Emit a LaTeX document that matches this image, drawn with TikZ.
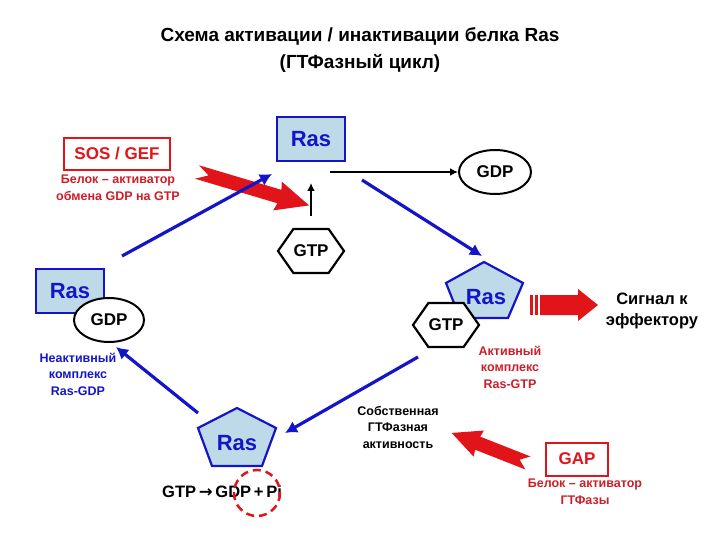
\documentclass[tikz,border=0pt]{standalone}
\usepackage{fontspec}
\setmainfont{Liberation Sans}
\newfontfamily\djv{DejaVu Sans}
\usetikzlibrary{shapes.symbols,shapes.geometric,arrows.meta}
\definecolor{rasblue}{RGB}{20,20,200}
\definecolor{rasfill}{RGB}{190,218,232}
\definecolor{myred}{RGB}{225,20,25}
\definecolor{txtred}{RGB}{205,30,40}
\tikzset{
  lbl/.style={font=\bfseries\fontsize{12.5}{16.5}\selectfont, align=center, inner sep=0},
  rasbox/.style={draw=rasblue, line width=2.2pt, fill=rasfill, text=rasblue, font=\bfseries\fontsize{22}{24}\selectfont, minimum width=68, minimum height=44, inner sep=0},
  rastxt/.style={text=rasblue, font=\bfseries\fontsize{22}{24}\selectfont, inner sep=0},
  hexa/.style={draw, line width=2.2pt, fill=white, shape=signal, signal to=west and east, signal pointer angle=110, minimum width=66, minimum height=44, inner sep=0, font=\bfseries\fontsize{17}{19}\selectfont},
  gdpell/.style={draw, ellipse, line width=2pt, fill=white, minimum width=72, minimum height=44, inner sep=0, font=\bfseries\fontsize{17}{19}\selectfont},
  redbox/.style={draw=myred, line width=2pt, text=myred, font=\bfseries\fontsize{17}{19}\selectfont, inner sep=0},
  blue arrow/.style={draw=rasblue, line width=3.2pt, -{Latex[length=12pt,width=13pt]}},
  blk arrow/.style={draw=black, line width=1.6pt, -{Latex[length=8pt,width=8pt]}},
  pent/.style={draw=rasblue, line width=2.2pt, fill=rasfill, line join=miter}
}
\begin{document}
\begin{tikzpicture}[x=1pt,y=-1pt]
\useasboundingbox (0,0) rectangle (720,540);
% title
\node[font=\bfseries\fontsize{19}{27}\selectfont, align=center] (title) at (360,50) {Схема активации / инактивации белка Ras\\(ГТФазный цикл)};
% top
\node[rasbox] (rastop) at (311,139) {Ras};
\node[hexa] (gtptop) at (311,251) {GTP};
\node[gdpell] (gdptop) at (495,172) {GDP};
\coordinate (exitA) at (330,172);
\draw[blk arrow] (exitA) -- (gdptop.west);
\coordinate (upA) at (311,216);
\coordinate (upB) at (311,183);
\draw[blk arrow] (upA) -- (upB);
% SOS
\node[redbox, minimum width=106, minimum height=32] (sos) at (117,154) {SOS / GEF};
\node[lbl, text=txtred] (soslbl) at (118,188) {Белок – активатор\\обмена GDP на GTP};
\begin{scope}[shift={(197,172)}, rotate=-16.6]
\fill[myred] (0,-7) -- (86,-7) -- (84,-15) -- (117,0) -- (84,15) -- (86,7) -- (0,7) -- (12,0) -- cycle;
\end{scope}
% right Ras-GTP
\draw[pent] (484,262) -- (523,283) -- (508,318) -- (460,318) -- (446,283) -- cycle;
\node[rastxt] (rasright) at (486,297) {Ras};
\node[hexa] (gtpright) at (446,325) {GTP};
\node[lbl, text=txtred] (actlbl) at (510,367) {Активный\\комплекс\\Ras-GTP};
% signal arrow
\fill[myred] (530,295) rectangle (533,315);
\fill[myred] (535,295) rectangle (538,315);
\fill[myred] (540,295) -- (578,295) -- (578,289) -- (598,305) -- (578,321) -- (578,315) -- (540,315) -- cycle;
\node[font=\bfseries\fontsize{16.5}{21}\selectfont, align=center] (signal) at (652,311) {Сигнал к\\эффектору};
% bottom Ras
\draw[pent] (237,408) -- (276,428) -- (262,466) -- (212,466) -- (198,428) -- cycle;
\node[rastxt] (rasbot) at (237,443) {Ras};
\node[font=\bfseries\fontsize{16.5}{18}\selectfont, inner sep=0, anchor=west] (react) at (162,492) {GTP\,{\djv\bfseries →}\,GDP\,+\,Pi};
\draw[myred, line width=2.5pt, dash pattern=on 8pt off 5pt] (257,493) circle (23);
% left Ras-GDP
\node[rasbox] (rasleft) at (70,291) {Ras};
\node[gdpell, minimum width=70] (gdpleft) at (109,320) {GDP};
\node[lbl, text=rasblue] (inactlbl) at (78,374) {Неактивный\\комплекс\\Ras-GDP};
% intrinsic
\node[lbl, text=black] (intr) at (398,427) {Собственная\\ГТФазная\\активность};
% GAP
\node[redbox, minimum width=62, minimum height=33] (gap) at (577,459) {GAP};
\node[lbl, text=txtred] (gaplbl) at (585,492) {Белок – активатор\\ГТФазы};
\begin{scope}[shift={(528,463)}, rotate=158.5]
\fill[myred] (0,-7) -- (54,-7) -- (53,-14) -- (82,0) -- (53,14) -- (54,7) -- (0,7) -- (9,0) -- cycle;
\end{scope}
% blue cycle arrows
\coordinate (b1s) at (122,256); \coordinate (b1e) at (272,174);
\draw[blue arrow] (b1s) -- (b1e);
\coordinate (b2s) at (362,180); \coordinate (b2e) at (482,256);
\draw[blue arrow] (b2s) -- (b2e);
\coordinate (b3s) at (418,357); \coordinate (b3e) at (285,433);
\draw[blue arrow] (b3s) -- (b3e);
\coordinate (b4s) at (198,413); \coordinate (b4e) at (116,347);
\draw[blue arrow] (b4s) -- (b4e);
\end{tikzpicture}
\end{document}
